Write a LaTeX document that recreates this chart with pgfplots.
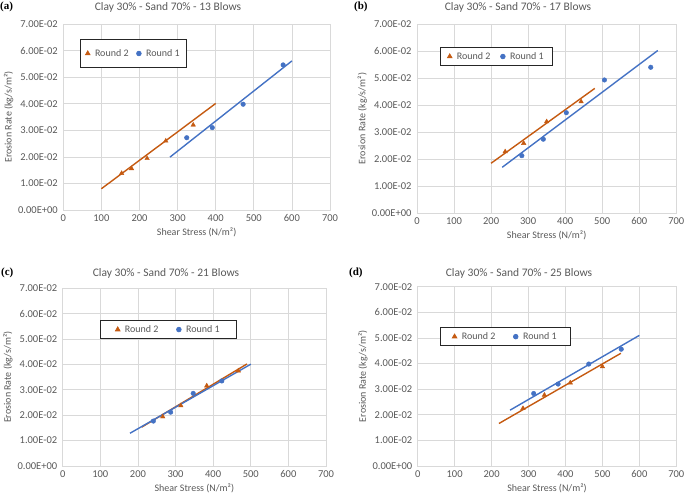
\documentclass[border=0pt]{standalone}
\usepackage{fontspec}
\setmainfont{Carlito}
\newfontfamily\serifbf{Liberation Serif}
\usepackage{pgfplots}
\pgfplotsset{compat=1.18}
\definecolor{orng}{HTML}{C55A11}
\definecolor{blu}{HTML}{4472C4}
\definecolor{gridc}{HTML}{D9D9D9}
\definecolor{txt}{HTML}{595959}
\pgfplotsset{
  myaxis/.style={
    scale only axis,
    xmin=0,xmax=700,ymin=0,ymax=0.07,
    xtick={0,100,200,300,400,500,600,700},
    ytick={0,0.01,0.02,0.03,0.04,0.05,0.06,0.07},
    yticklabels={0.00E+00,1.00E-02,2.00E-02,3.00E-02,4.00E-02,5.00E-02,6.00E-02,7.00E-02},
    scaled y ticks=false,
    grid=major,
    major grid style={draw=gridc,line width=0.7pt},
    axis line style={draw=gridc,line width=0.7pt},
    tick style={draw=none},
    /pgf/number format/assume math mode=true,
    ticklabel style={font=\fontsize{10.5}{12}\selectfont,text=txt},
    xticklabel style={yshift=-1pt},
    yticklabel style={xshift=-2pt},
    xlabel={Shear Stress (N/m²)},
    ylabel={Erosion Rate (kg/s/m²)},
    label style={font=\fontsize{10}{12}\selectfont,text=txt},
    xlabel style={yshift=1pt},
    ylabel style={yshift=-2pt},
    legend columns=2,
    legend cell align=left,
    legend style={draw=black!85,line width=0.8pt,fill=white,
      font=\fontsize{10}{12}\selectfont,text=txt,anchor=north west,
      /tikz/every odd column/.append style={column sep=3pt},
      /tikz/every even column/.append style={column sep=8pt}},
  },
  r2/.style={only marks,mark=triangle*,mark size=2.6pt,color=orng},
  r1/.style={only marks,mark=*,mark size=2.3pt,color=blu},
  l2/.style={no marks,color=orng,line width=1.4pt,forget plot},
  l1/.style={no marks,color=blu,line width=1.4pt,forget plot},
}
\begin{document}
\begin{tikzpicture}
\useasboundingbox (0,0) rectangle (685pt,502pt);
% (a)
\begin{axis}[myaxis,at={(63.3pt,292pt)},anchor=south west,width=266.7pt,height=186pt,
  legend style={at={(rel axis cs:0.063,0.92)},inner ysep=8pt,inner xsep=5pt,
  /tikz/every even column/.append style={column sep=6pt}}]
\addplot[r2] coordinates {(153,0.0138) (179,0.0156) (220,0.0194) (269,0.0260) (341,0.0320)};
\addlegendentry{Round 2}
\addplot[r1] coordinates {(324,0.0272) (391,0.0310) (472,0.0398) (577,0.0546)};
\addlegendentry{Round 1}
\addplot[l2] coordinates {(100,0.0080) (400,0.0401)};
\addplot[l1] coordinates {(280,0.0199) (600,0.0561)};
\end{axis}
% (b)
\begin{axis}[myaxis,at={(417pt,288.7pt)},anchor=south west,width=259.3pt,height=189.3pt,
  legend style={at={(rel axis cs:0.089,0.879)},inner ysep=3pt,inner xsep=7pt}]
\addplot[r2] coordinates {(238,0.0228) (288,0.0259) (350,0.0339) (443,0.0413)};
\addlegendentry{Round 2}
\addplot[r1] coordinates {(283,0.0213) (341,0.0274) (403,0.0372) (506,0.0493) (631,0.0540)};
\addlegendentry{Round 1}
\addplot[l2] coordinates {(200,0.0185) (480,0.0462)};
\addplot[l1] coordinates {(230,0.0170) (650,0.0602)};
\end{axis}
% (c)
\begin{axis}[myaxis,at={(62.7pt,36pt)},anchor=south west,width=263.3pt,height=177.7pt,
  legend style={at={(rel axis cs:0.142,0.822)},inner ysep=3pt,inner xsep=15pt,
  /tikz/every even column/.append style={column sep=16pt}}]
\addplot[r2] coordinates {(266,0.0194) (314,0.0238) (383,0.0316) (467,0.0375)};
\addlegendentry{Round 2}
\addplot[r1] coordinates {(241,0.0177) (287,0.0212) (347,0.0286) (423,0.0335)};
\addlegendentry{Round 1}
\addplot[l2] coordinates {(210,0.0153) (490,0.0402)};
\addplot[l1] coordinates {(179,0.0129) (500,0.0401)};
\end{axis}
% (d)
\begin{axis}[myaxis,at={(417.7pt,36pt)},anchor=south west,width=258.6pt,height=179.3pt,
  legend style={at={(rel axis cs:0.086,0.775)},inner ysep=3pt,inner xsep=12pt,
  /tikz/every even column/.append style={column sep=16pt}}]
\addplot[r2] coordinates {(285,0.0225) (343,0.0277) (413,0.0325) (500,0.0388)};
\addlegendentry{Round 2}
\addplot[r1] coordinates {(314,0.0283) (380,0.0320) (463,0.0398) (551,0.0456)};
\addlegendentry{Round 1}
\addplot[l2] coordinates {(220,0.0166) (550,0.0440)};
\addplot[l1] coordinates {(250,0.0218) (600,0.0510)};
\end{axis}
% titles
\node[font=\fontsize{11.5}{13}\selectfont,text=txt] at (168pt,495pt) {Clay 30\% - Sand 70\% - 13 Blows};
\node[font=\fontsize{11.5}{13}\selectfont,text=txt] at (518pt,495pt) {Clay 30\% - Sand 70\% - 17 Blows};
\node[font=\fontsize{11.5}{13}\selectfont,text=txt] at (166pt,229pt) {Clay 30\% - Sand 70\% - 21 Blows};
\node[font=\fontsize{11.5}{13}\selectfont,text=txt] at (519pt,229pt) {Clay 30\% - Sand 70\% - 25 Blows};
% panel labels
\node[font=\serifbf\bfseries\fontsize{11}{12}\selectfont,anchor=west,inner sep=0pt] at (0pt,495pt) {(a)};
\node[font=\serifbf\bfseries\fontsize{11}{12}\selectfont,anchor=west,inner sep=0pt] at (354pt,495pt) {(b)};
\node[font=\serifbf\bfseries\fontsize{11}{12}\selectfont,anchor=west,inner sep=0pt] at (1pt,229pt) {(c)};
\node[font=\serifbf\bfseries\fontsize{11}{12}\selectfont,anchor=west,inner sep=0pt] at (349pt,229pt) {(d)};
\end{tikzpicture}
\end{document}
